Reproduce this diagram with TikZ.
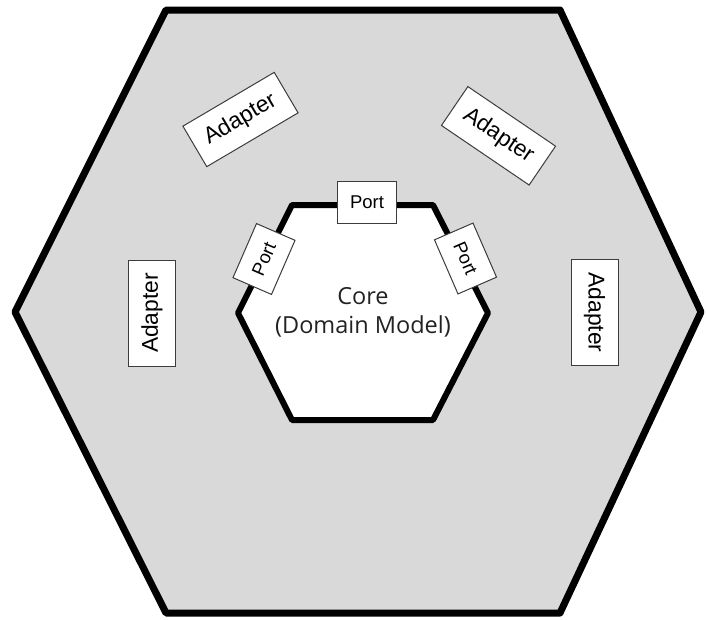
\documentclass[tikz,border=0pt]{standalone}
\usepackage{fontspec}
\setmainfont{Liberation Sans}
\newfontfamily\corefont{Open Sans}
\definecolor{hexgray}{RGB}{217,217,217}
\definecolor{boxline}{RGB}{60,60,60}
\definecolor{coretext}{RGB}{34,34,34}
\begin{document}
\begin{tikzpicture}[x=1pt,y=-1pt,
  hexline/.style={line width=7pt,line join=round,draw=black},
  adapterbox/.style={draw=boxline,line width=1pt,fill=white,inner sep=0pt,
    minimum width=106pt,minimum height=47pt,
    font=\fontsize{22.8}{22.8}\selectfont},
  portbox/.style={draw=boxline,line width=1pt,fill=white,inner sep=0pt,
    minimum width=59pt,minimum height=42pt,
    font=\fontsize{18.5}{18.5}\selectfont}]
\useasboundingbox (0,0) rectangle (707,619);
% outer hexagon
\coordinate (o1) at (166,10);
\coordinate (o2) at (560,10);
\coordinate (o3) at (701,312);
\coordinate (o4) at (560,613);
\coordinate (o5) at (166,613);
\coordinate (o6) at (15,312);
\draw[hexline,fill=hexgray] (o1) -- (o2) -- (o3) -- (o4) -- (o5) -- (o6) -- cycle;
% inner hexagon
\coordinate (i1) at (292,205);
\coordinate (i2) at (433,205);
\coordinate (i3) at (488,313);
\coordinate (i4) at (433,420);
\coordinate (i5) at (292,420);
\coordinate (i6) at (238,313);
\draw[line width=6pt,line join=round,fill=white] (i1) -- (i2) -- (i3) -- (i4) -- (i5) -- (i6) -- cycle;
% core label
\node[align=center,text=coretext,font=\corefont\fontsize{23.5}{29}\selectfont] (core) at (363,312.5) {Core\\(Domain Model)};
% ports
\node[portbox] (ptop) at (367,202.5) {Port};
\node[portbox,rotate=66.5] (pleft) at (264,259) {Port};
\node[portbox,rotate=-66.5] (pright) at (465.5,258.5) {Port};
% adapters
\node[adapterbox,rotate=30.5] (atl) at (240.5,119.5) {Adapter};
\node[adapterbox,rotate=-34.2] (atr) at (498.5,135.8) {Adapter};
\node[adapterbox,rotate=90] (al) at (152,313) {Adapter};
\node[adapterbox,rotate=-90] (ar) at (594.5,312.5) {Adapter};
\end{tikzpicture}
\end{document}
